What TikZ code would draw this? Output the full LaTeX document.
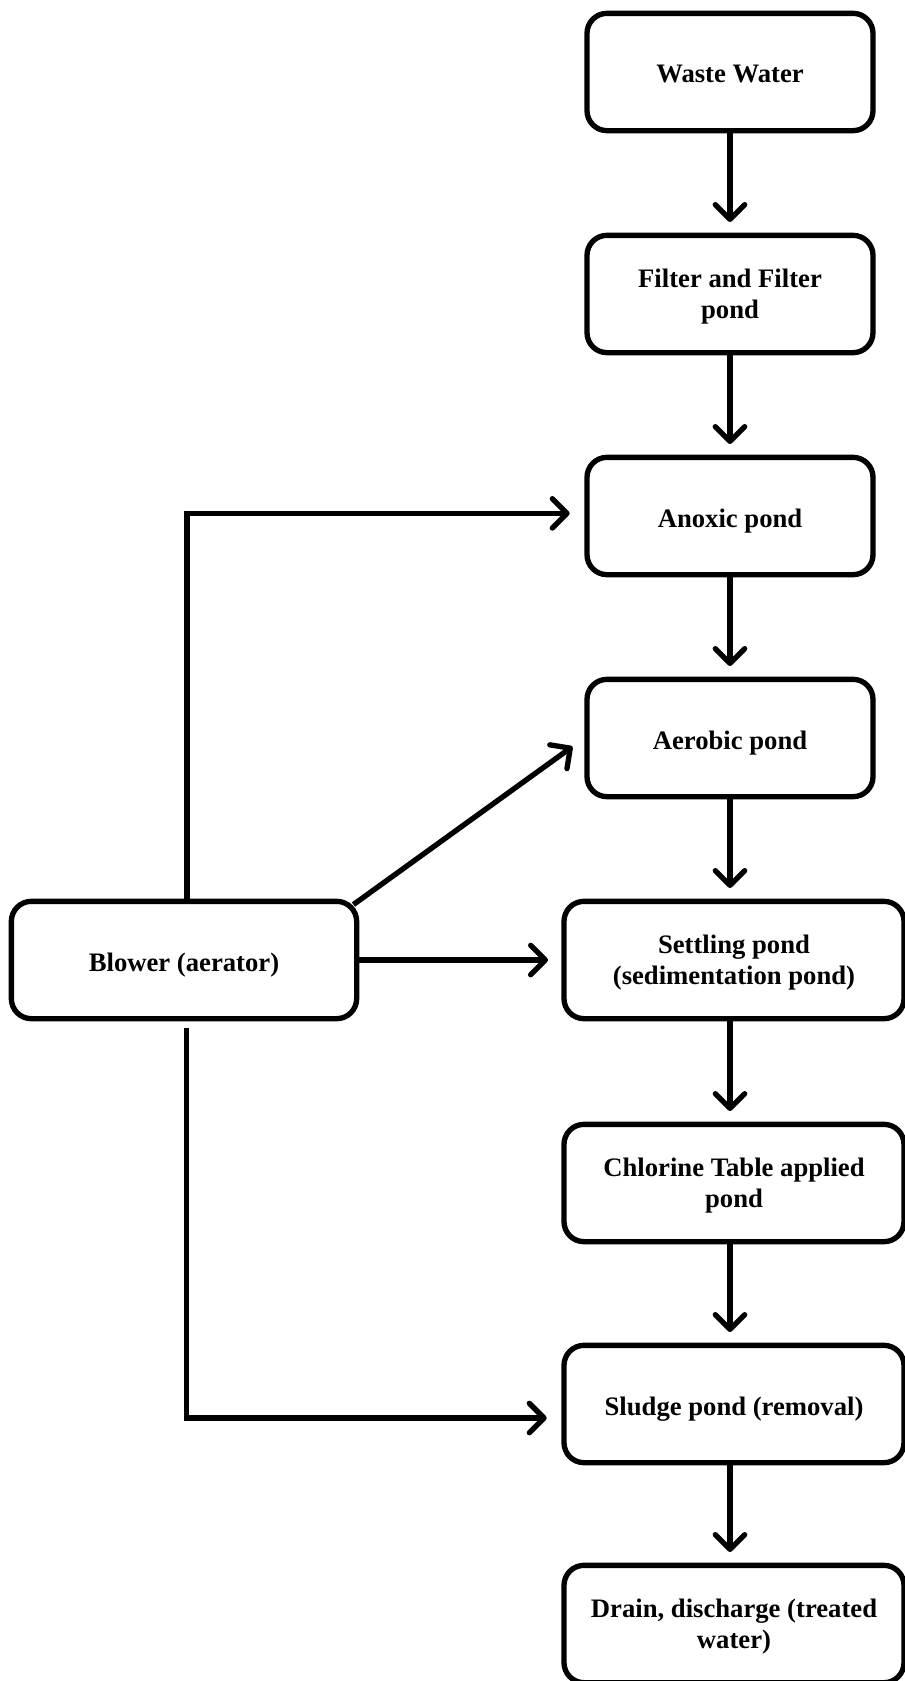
\documentclass[tikz,border=0pt]{standalone}
\usepackage{fontspec}
\setmainfont{Liberation Serif}
\usetikzlibrary{arrows.meta,positioning}
\begin{document}
\begin{tikzpicture}[x=0.75pt,y=-0.75pt,
  box/.style={draw=black,line width=4pt,rounded corners=15pt,fill=white,
    minimum width=214.5pt,minimum height=88pt,align=center,
    inner sep=2pt,text depth=0pt,font=\fontsize{20pt}{23.5pt}\selectfont\bfseries},
  widebox/.style={box,minimum width=255pt},
  conn/.style={line width=4pt,-{Straight Barb[length=11pt,width=22pt,round]}}]
\useasboundingbox (0,0) rectangle (905,1681);
\node[box] (ww) at (730,72) {\raisebox{-3pt}{Waste Water}};
\node[box] (filt) at (730,294) {Filter and Filter\\pond};
\node[box] (anox) at (730,516) {\raisebox{-3pt}{Anoxic pond}};
\node[box] (aer) at (730,738) {\raisebox{-3pt}{Aerobic pond}};
\node[widebox] (sett) at (734,960) {Settling pond\\(sedimentation pond)};
\node[widebox] (chl) at (734,1183) {Chlorine Table applied\\pond};
\node[widebox] (sludge) at (734,1404) {\raisebox{-3pt}{Sludge pond (removal)}};
\node[widebox] (drain) at (734,1624) {Drain, discharge (treated\\water)};
\node[box,minimum width=259pt] (blower) at (184,960) {\raisebox{-3pt}{Blower (aerator)}};
% main column
\draw[conn,shorten >=8pt] (ww.south) -- (ww.south |- filt.north);
\draw[conn,shorten >=8pt] (filt.south) -- (filt.south |- anox.north);
\draw[conn,shorten >=8pt] (anox.south) -- (anox.south |- aer.north);
\draw[conn,shorten >=8pt] (aer.south) -- (aer.south |- sett.north);
\draw[conn,shorten >=8pt] (aer.south |- sett.south) -- (aer.south |- chl.north);
\draw[conn,shorten >=8pt] (aer.south |- chl.south) -- (aer.south |- sludge.north);
\draw[conn,shorten >=8pt] (aer.south |- sludge.south) -- (aer.south |- drain.north);
% blower connections
\draw[conn,shorten >=11pt,shorten <=-4pt] ([xshift=2.25pt]blower.north) |- ([yshift=2pt]anox.west);
\draw[conn,shorten >=11pt] ([xshift=-4.4pt,yshift=-4.4pt]blower.north east) -- (aer.west);
\draw[conn,shorten >=10pt] (blower.east) -- (blower.east -| sett.west);
\draw[conn,shorten >=11pt,shorten <=5pt] ([xshift=2pt]blower.south) |- ([yshift=-10.5pt]sludge.west);
\end{tikzpicture}
\end{document}
